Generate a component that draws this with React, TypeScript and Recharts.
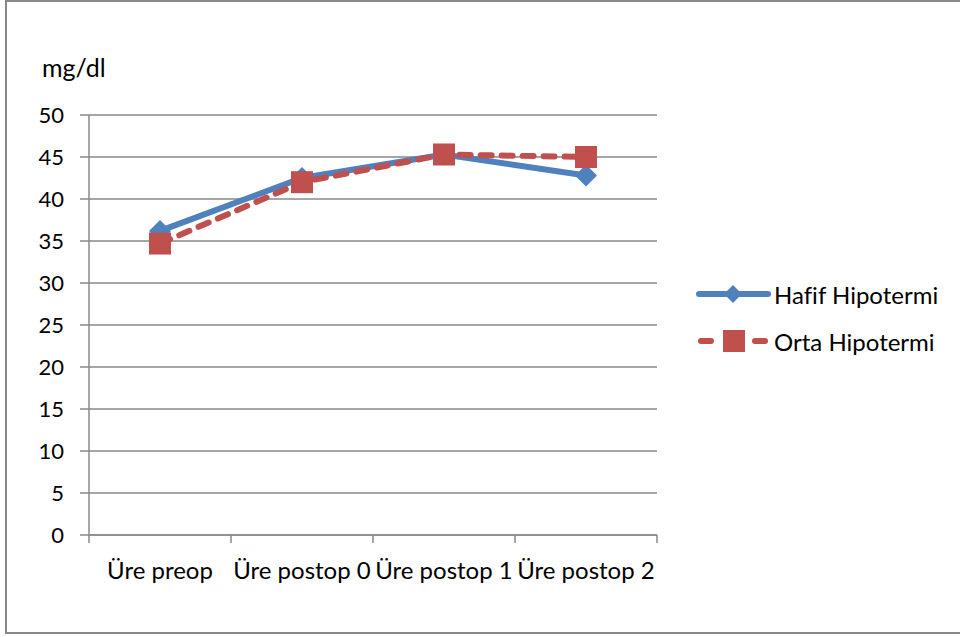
import { CartesianGrid, Line, LineChart, XAxis, YAxis } from "recharts";

const categories = ["Üre preop", "Üre postop 0", "Üre postop 1", "Üre postop 2"];
const hafif = [36.2, 42.5, 45.3, 42.8];
const orta = [34.7, 42.0, 45.3, 45.0];
const yTicks = [0, 5, 10, 15, 20, 25, 30, 35, 40, 45, 50];
const seriesNames = ["Hafif Hipotermi", "Orta Hipotermi"];

const BLUE = "#4F81BD";
const RED = "#C0504D";
const FONT = "Lato, 'Open Sans', sans-serif";

const data = categories.map((name, i) => ({
  x: i + 0.5,
  name,
  hafif: hafif[i],
  orta: orta[i],
}));

const xTicks = categories.flatMap((_, i) => [i, i + 0.5]).concat(categories.length);

function XTick({ x, y, payload }: any) {
  const v = payload.value as number;
  if (Number.isInteger(v)) {
    return <line x1={x} x2={x} y1={y} y2={y + 8} stroke="#888" strokeWidth={1.5} />;
  }
  return (
    <text
      x={x}
      y={y + 44}
      textAnchor="middle"
      fontSize={24}
      fontFamily={FONT}
      fill="#000"
      style={{ fontVariantLigatures: "none" }}
    >
      {categories[Math.floor(v)]}
    </text>
  );
}

function Diamond({ cx, cy, r = 10 }: any) {
  if (cx == null || cy == null) return null;
  return (
    <path
      d={`M${cx},${cy - r} L${cx + r},${cy} L${cx},${cy + r} L${cx - r},${cy} Z`}
      fill={BLUE}
    />
  );
}

function Square({ cx, cy, s = 11 }: any) {
  if (cx == null || cy == null) return null;
  return <rect x={cx - s} y={cy - s} width={s * 2} height={s * 2} fill={RED} />;
}

function LegendBox() {
  return (
    <div style={{ fontFamily: FONT, fontSize: 24, color: "#000", fontVariantLigatures: "none" }}>
      <div style={{ display: "flex", alignItems: "center", height: 30 }}>
        <svg width={78} height={30}>
          <line x1={4} x2={73} y1={15} y2={15} stroke={BLUE} strokeWidth={6} strokeLinecap="round" />
          <Diamond cx={38} cy={15} r={9} />
        </svg>
        <span style={{ marginLeft: 1 }}>{seriesNames[0]}</span>
      </div>
      <div style={{ display: "flex", alignItems: "center", height: 30, marginTop: 17 }}>
        <svg width={78} height={30}>
          <line x1={6} x2={16} y1={15} y2={15} stroke={RED} strokeWidth={6} strokeLinecap="round" />
          <Square cx={39} cy={15} s={11} />
          <line x1={60} x2={70} y1={15} y2={15} stroke={RED} strokeWidth={6} strokeLinecap="round" />
        </svg>
        <span style={{ marginLeft: 1 }}>{seriesNames[1]}</span>
      </div>
    </div>
  );
}

export default function App() {
  return (
    <div
      style={{
        position: "absolute",
        left: 0,
        top: 0,
        width: 960,
        height: 637,
        background: "#fff",
        overflow: "hidden",
      }}
    >
      <div
        style={{
          position: "absolute",
          left: 5,
          top: 0,
          width: 980,
          height: 634,
          border: "2px solid #888",
          boxSizing: "border-box",
        }}
      />
      <div
        style={{
          position: "absolute",
          left: 42,
          top: 52,
          fontFamily: FONT,
          fontSize: 25,
          color: "#000",
        }}
      >
        mg/dl
      </div>
      <div style={{ position: "absolute", left: 0, top: 0 }}>
        <LineChart
          width={960}
          height={637}
          data={data}
          margin={{ top: 115, right: 303, bottom: 0, left: 29 }}
        >
          <CartesianGrid vertical={false} stroke="#888" strokeWidth={1.5} />
          <XAxis
            dataKey="x"
            type="number"
            domain={[0, categories.length]}
            ticks={xTicks}
            interval={0}
            tick={<XTick />}
            tickLine={false}
            tickSize={0}
            tickMargin={0}
            axisLine={{ stroke: "#888", strokeWidth: 1.5 }}
            height={102}
          />
          <YAxis
            domain={[0, 50]}
            ticks={yTicks}
            interval={0}
            width={60}
            tickSize={9}
            tickMargin={16}
            tickLine={{ stroke: "#888", strokeWidth: 1.5 }}
            axisLine={{ stroke: "#888", strokeWidth: 1.5 }}
            tick={{ fill: "#000", fontSize: 22, fontFamily: FONT }}
          />
          <Line
            dataKey="hafif"
            name={seriesNames[0]}
            stroke={BLUE}
            strokeWidth={6}
            dot={<Diamond r={11} />}
            activeDot={false}
            isAnimationActive={false}
          />
          <Line
            dataKey="orta"
            name={seriesNames[1]}
            stroke={RED}
            strokeWidth={6}
            strokeDasharray="11 10"
            strokeLinecap="round"
            dot={<Square s={11} />}
            activeDot={false}
            isAnimationActive={false}
          />
        </LineChart>
      </div>
      <div style={{ position: "absolute", left: 695, top: 279 }}>
        <LegendBox />
      </div>
    </div>
  );
}
